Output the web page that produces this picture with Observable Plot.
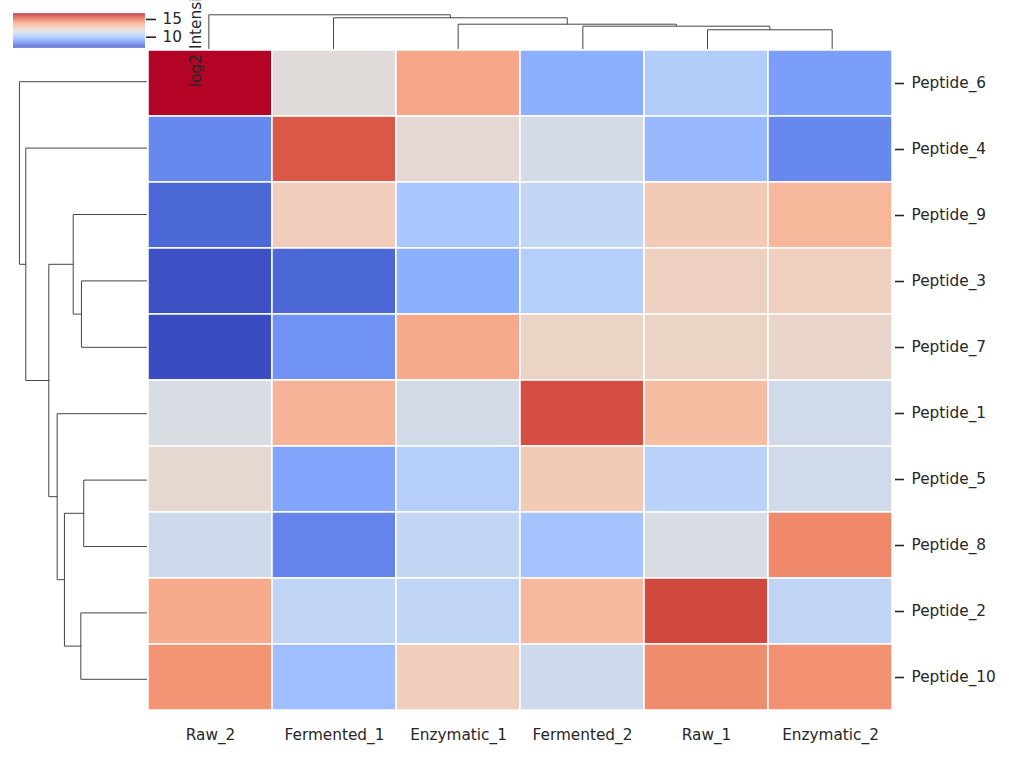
<!DOCTYPE html>
<html><head><meta charset="utf-8">
<script src="https://cdn.jsdelivr.net/npm/d3@7"></script>
<script src="https://cdn.jsdelivr.net/npm/@observablehq/plot@0.6"></script>
<style>
body{margin:0;background:#fff;}
#wrap{position:relative;width:1009px;height:757px;font-family:"DejaVu Sans",sans-serif;}
#wrap > svg{position:absolute;left:0;top:0;}
</style></head><body><div id="wrap"></div>
<script>
// ---- data ----
const rows = ["Peptide_6","Peptide_4","Peptide_9","Peptide_3","Peptide_7","Peptide_1","Peptide_5","Peptide_8","Peptide_2","Peptide_10"];
const cols = ["Raw_2","Fermented_1","Enzymatic_1","Fermented_2","Raw_1","Enzymatic_2"];
const peptide6  = [16.60, 11.85, 13.88,  9.33, 10.39,  8.84];
const peptide4  = [ 8.26, 15.53, 12.04, 11.41,  9.62,  8.26];
const peptide9  = [ 7.48, 12.62, 10.10, 10.88, 12.72, 13.40];
const peptide3  = [ 7.00,  7.48,  9.33, 10.49, 12.48, 12.53];
const peptide7  = [ 6.90,  8.55, 13.79, 12.33, 12.33, 12.24];
const peptide1  = [11.56, 13.50, 11.36, 15.73, 13.20, 11.31];
const peptide5  = [12.09,  9.03, 10.44, 12.72, 10.59, 11.27];
const peptide8  = [11.22,  8.16, 10.88, 10.00, 11.56, 14.56];
const peptide2  = [13.79, 10.78, 10.78, 13.35, 15.82, 10.78];
const peptide10 = [14.32,  9.81, 12.57, 11.17, 14.51, 14.37];
const rowValues = [peptide6, peptide4, peptide9, peptide3, peptide7, peptide1, peptide5, peptide8, peptide2, peptide10];
// linkage: [childA, childB, height]; "#k" refers to the k-th merge
const rowLinkage = [
  ["Peptide_3","Peptide_7",5.12],
  ["Peptide_5","Peptide_8",4.94],
  ["Peptide_2","Peptide_10",5.17],
  ["Peptide_9","#0",5.77],
  ["#1","#2",6.46],
  ["Peptide_1","#4",7.03],
  ["#3","#5",7.69],
  ["Peptide_4","#6",9.50],
  ["Peptide_6","#7",10.0]
];
const colLinkage = [
  ["Raw_1","Enzymatic_2",5.55],
  ["Fermented_2","#0",6.62],
  ["Enzymatic_1","#1",7.21],
  ["Fermented_1","#2",9.11],
  ["Raw_2","#3",10.0]
];
const cbarTicks = [10, 15];
const vmin = 6.9, vmax = 16.6;
const cbarLabel = "log2 Intensity";

// coolwarm colormap
const coolwarm = [[59,76,192],[68,90,204],[77,104,215],[87,117,225],[98,130,234],[108,142,241],[119,154,247],[130,165,251],[141,176,254],[152,185,255],[163,194,255],[174,201,253],[184,208,249],[194,213,244],[204,217,238],[213,219,230],[221,221,221],[229,216,209],[236,211,197],[241,204,184],[245,196,172],[247,187,160],[247,177,148],[247,166,137],[244,154,123],[241,141,111],[236,127,99],[229,112,88],[222,96,77],[213,80,66],[203,62,56],[192,40,47],[180,4,38]].map(c=>`rgb(${c})`);
const interp = d3.piecewise(d3.interpolateRgb, coolwarm);
const colorScale = {type:"linear", domain:[vmin, vmax], interpolate: interp};

const cells = [];
rows.forEach((r,i)=>cols.forEach((c,j)=>cells.push({row:r, col:c, value:rowValues[i][j]})));

function dendro(leaves, linkage){
  const pos = new Map(leaves.map((l,i)=>[l,{p:i+0.5,h:0}]));
  const segs = [];
  linkage.forEach(([a,b,h],k)=>{
    const A = pos.get(a), B = pos.get(b);
    segs.push({k,p:A.p,h:A.h},{k,p:A.p,h},{k,p:B.p,h},{k,p:B.p,h:B.h});
    pos.set("#"+k,{p:(A.p+B.p)/2,h});
  });
  return segs;
}
const rowSegs = dendro(rows, rowLinkage);
const colSegs = dendro(cols, colLinkage);
const rowMax = d3.max(rowLinkage, d=>d[2]);
const colMax = d3.max(colLinkage, d=>d[2]);

const W = 1009, H = 757, mL = 146, mR = 115, mT = 48, mB = 45;
const txt = "#262626";
const FS = 15.3;
const baseStyle = {background:"transparent", overflow:"visible", fontFamily:"DejaVu Sans", fontSize:FS+"px", color:txt};
const wrap = document.getElementById("wrap");

const heat = Plot.plot({
  width:W, height:H, marginLeft:mL, marginRight:mR, marginTop:mT, marginBottom:mB,
  style: baseStyle,
  x:{domain:cols, padding:0, label:null},
  y:{domain:rows, padding:0, label:null},
  color: colorScale,
  marks:[
    Plot.cell(cells,{x:"col", y:"row", fill:"value", stroke:"white", strokeWidth:1.5}),
    Plot.axisX({anchor:"bottom", tickSize:0, tickPadding:17, fontSize:FS, label:null}),
    Plot.axisY({anchor:"right", tickSize:9, tickPadding:8, strokeWidth:1.6, fontSize:FS, label:null})
  ]
});
wrap.appendChild(heat);

const rowD = Plot.plot({
  width:mL, height:H, marginLeft:12.6, marginRight:0, marginTop:mT, marginBottom:mB,
  style: baseStyle,
  x:{domain:[0, rowMax*1.05], reverse:true, axis:null},
  y:{domain:[0, rows.length], reverse:true, axis:null},
  marks:[Plot.line(rowSegs,{x:"h", y:"p", z:"k", stroke:"#444", strokeWidth:1})]
});
wrap.appendChild(rowD);

const colD = Plot.plot({
  width:W, height:mT, marginLeft:mL, marginRight:mR, marginTop:12.6, marginBottom:0,
  style: baseStyle,
  x:{domain:[0, cols.length], axis:null},
  y:{domain:[0, colMax*1.05], axis:null},
  marks:[Plot.line(colSegs,{x:"p", y:"h", z:"k", stroke:"#444", strokeWidth:1})]
});
wrap.appendChild(colD);

const nSteps = 120, step = (vmax-vmin)/nSteps;
const grad = d3.range(nSteps).map(i=>({y1:vmin+i*step, y2:vmin+(i+1)*step+step*0.3, v:vmin+(i+0.5)*step}));
const cbar = Plot.plot({
  width:200, height:48, marginLeft:13, marginRight:55, marginTop:13.3, marginBottom:0.3,
  style: baseStyle,
  x:{axis:null},
  y:{domain:[vmin, vmax], label:null},
  color: colorScale,
  marks:[
    Plot.rect(grad,{y1:"y1", y2:d=>Math.min(d.y2, vmax), fill:"v"}),
    Plot.axisY({anchor:"right", ticks:cbarTicks, tickSize:10, tickPadding:7, strokeWidth:1.6, fontSize:FS, label:null})
  ]
});
wrap.appendChild(cbar);

const lab = d3.select(wrap).append("svg").attr("width",W).attr("height",H).style("overflow","visible");
lab.append("text").attr("transform","translate(201,87) rotate(-90)")
  .attr("font-family","DejaVu Sans").attr("font-size",FS).attr("fill",txt).text(cbarLabel);
</script></body></html>
